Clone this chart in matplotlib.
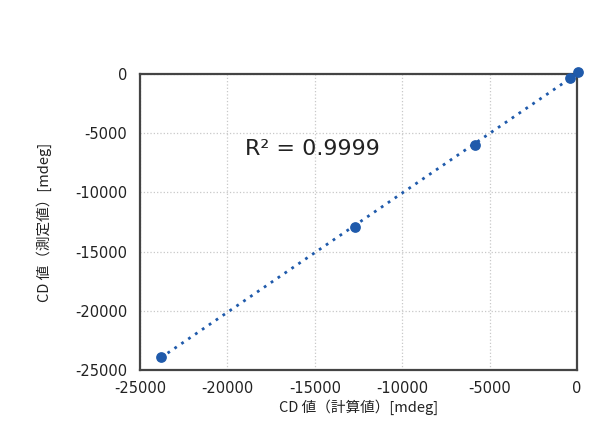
import numpy as np
import matplotlib.pyplot as plt

plt.rcParams['font.family'] = ['DejaVu Sans', 'Noto Sans CJK JP']
plt.rcParams['axes.unicode_minus'] = False

# 計算値と測定値 (mdeg)
calc = [-23815, -12709, -5862, -424, 50]
meas = [-23880, -12900, -6000, -363, 150]

xticks = [-25000, -20000, -15000, -10000, -5000, 0]
yticks = [0, -5000, -10000, -15000, -20000, -25000]

fig = plt.figure(figsize=(6, 4.4), dpi=100)
ax = fig.add_axes([0.2333, 0.159, 0.7284, 0.673])

blue = '#1f5aab'

# 線形近似
x = np.array(calc)
y = np.array(meas)
a, b = np.polyfit(x, y, 1)
xx = np.array([x.min(), x.max()])
ax.plot(xx, a * xx + b, linestyle=(0, (1, 2)), color=blue, lw=2, zorder=2)
r2 = np.corrcoef(x, y)[0, 1] ** 2

ax.scatter(calc, meas, s=45, color=blue, zorder=3, clip_on=False)

ax.set_xlim(-25000, 0)
ax.set_ylim(-25000, 0)
ax.set_xticks(xticks)
ax.set_yticks(yticks)
ax.tick_params(length=0, labelsize=10.5, colors='#222222', pad=8)
ax.tick_params(axis='y', pad=9)

ax.grid(True, color='#c8c8c8', linestyle=':', lw=0.9)
ax.set_axisbelow(True)
for s in ax.spines.values():
    s.set_color('#444444')
    s.set_linewidth(1.6)

jp = ['Noto Sans CJK JP', 'DejaVu Sans']
ax.set_xlabel('CD 値（計算値）[mdeg]', fontsize=10.5, color='#222222',
              labelpad=2, family=jp)
ax.set_ylabel('CD 値（測定値）[mdeg]', fontsize=10.5, color='#222222',
              labelpad=17, family=jp)

ax.text(-19000, -6300, 'R² = %.4f' % r2, fontsize=16, color='#222222',
        va='center')

fig.savefig('out.png', dpi=100)
